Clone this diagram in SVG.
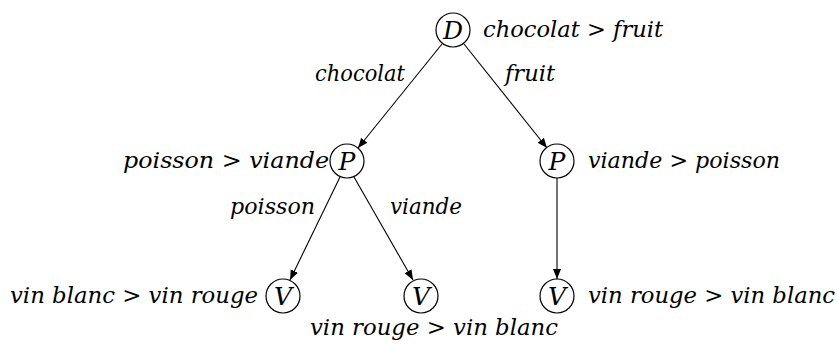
<svg xmlns="http://www.w3.org/2000/svg" width="837" height="345" viewBox="0 0 837 345">
<style>
.n{fill:#fff;stroke:#000;stroke-width:1.2}
.c{text-anchor:middle;font-size:25px}
.e{stroke:#000;stroke-width:1.1;fill:none;marker-end:url(#ah)}
</style>
<defs>
<marker id="ah" viewBox="0 0 10 10" refX="10" refY="5" markerWidth="10" markerHeight="10" markerUnits="userSpaceOnUse" orient="auto">
<path d="M0,1 L10,5 L0,9 Z" fill="#000"/>
</marker>
</defs>
<rect width="837" height="345" fill="#fff"/>
<g font-family="'DejaVu Serif', 'Liberation Serif', serif" font-style="italic" font-size="22" fill="#000">
<g id="connectors">
<line class="e" x1="442" y1="44" x2="358" y2="148"/>
<line class="e" x1="464" y1="44" x2="547" y2="148"/>
<line class="e" x1="340" y1="177" x2="290" y2="280"/>
<line class="e" x1="354" y1="177" x2="413" y2="280"/>
<line class="e" x1="557" y1="178" x2="557" y2="279"/>
<text x="315" y="81" textLength="90" lengthAdjust="spacingAndGlyphs">chocolat</text>
<text x="505" y="81" textLength="50" lengthAdjust="spacingAndGlyphs">fruit</text>
<text x="230" y="214" textLength="85" lengthAdjust="spacingAndGlyphs">poisson</text>
<text x="390" y="214" textLength="72" lengthAdjust="spacingAndGlyphs">viande</text>
</g>
<g id="D">
<circle class="n" cx="453" cy="30" r="17"/>
<text class="c" x="453" y="39">D</text>
<text x="483" y="37" textLength="180" lengthAdjust="spacingAndGlyphs">chocolat &gt; fruit</text>
</g>
<g id="P1">
<circle class="n" cx="347" cy="161" r="17"/>
<text class="c" x="347" y="170">P</text>
<text x="123" y="168" textLength="206" lengthAdjust="spacingAndGlyphs">poisson &gt; viande</text>
</g>
<g id="P2">
<circle class="n" cx="557" cy="161" r="17"/>
<text class="c" x="557" y="170">P</text>
<text x="588" y="168" textLength="192" lengthAdjust="spacingAndGlyphs">viande &gt; poisson</text>
</g>
<g id="V1">
<circle class="n" cx="283" cy="296" r="17"/>
<text class="c" x="283" y="305">V</text>
<text x="10" y="303" textLength="248" lengthAdjust="spacingAndGlyphs">vin blanc &gt; vin rouge</text>
</g>
<g id="V2">
<circle class="n" cx="421" cy="296" r="17"/>
<text class="c" x="421" y="305">V</text>
<text x="310" y="335" textLength="248" lengthAdjust="spacingAndGlyphs">vin rouge &gt; vin blanc</text>
</g>
<g id="V3">
<circle class="n" cx="557" cy="296" r="17"/>
<text class="c" x="557" y="305">V</text>
<text x="588" y="303" textLength="247" lengthAdjust="spacingAndGlyphs">vin rouge &gt; vin blanc</text>
</g>
</g>
</svg>
